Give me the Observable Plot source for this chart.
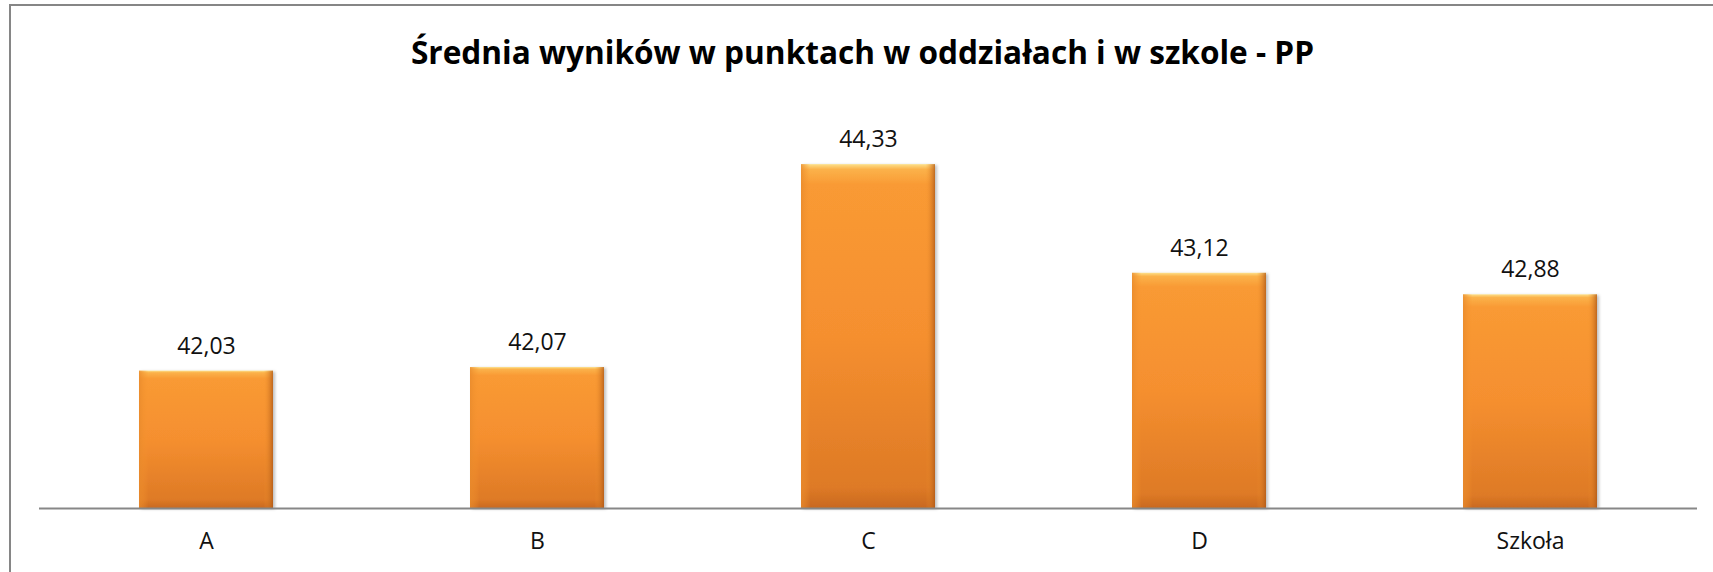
<!DOCTYPE html>
<html>
<head>
<meta charset="utf-8">
<script src="https://cdn.jsdelivr.net/npm/d3@7"></script>
<script src="https://cdn.jsdelivr.net/npm/@observablehq/plot@0.6"></script>
<style>
  html, body { margin: 0; padding: 0; background: #fff; overflow: hidden; }
  #wrap { position: relative; width: 1713px; height: 572px; overflow: hidden; }
  #frame { position: absolute; left: 9px; top: 4px; width: 1720px; height: 600px; border: 2px solid #868686; box-sizing: border-box; }
  #title { position: absolute; left: 6px; width: 1713px; top: 31px; text-align: center;
           font-family: "Open Sans", sans-serif; font-weight: bold; font-size: 31.6px; color: #000; line-height: 42px; }
  #chart { position: absolute; left: 0; top: 0; }
</style>
</head>
<body>
<div id="wrap">
  <div id="frame"></div>
  <div id="chart"></div>
  <div id="title">Średnia wyników w punktach w oddziałach i w szkole - PP</div>
</div>
<script>
const categories = ["A", "B", "C", "D", "Szkoła"];
const values = [42.03, 42.07, 44.33, 43.12, 42.88];
const labels = ["42,03", "42,07", "44,33", "43,12", "42,88"];
const yMin = 40.5;
const yMax = 45;

const data = categories.map((c, i) => ({cat: c, value: values[i], label: labels[i]}));

const plot = Plot.plot({
  width: 1713,
  height: 572,
  marginLeft: 39,
  marginRight: 16,
  marginTop: 104,
  marginBottom: 64,
  style: {fontFamily: "'Open Sans', sans-serif", background: "transparent"},
  x: {domain: categories, paddingInner: 0.595, paddingOuter: 0.2975, label: null},
  y: {domain: [yMin, yMax], axis: null},
  marks: [
    Plot.barY(data, {x: "cat", y1: () => yMin, y2: "value", fill: "url(#barGrad)", className: "mainbar"}),
    Plot.barY(data, {x: "cat", y1: () => yMin, y2: "value", fill: "url(#sideGrad)"}),
    Plot.ruleY([yMin], {stroke: "#878787", strokeWidth: 2}),
    Plot.text(data, {x: "cat", y: "value", text: "label", dy: -25, fontSize: 23, fill: "#111"}),
    Plot.axisX({tickSize: 0, tickPadding: 24, fontSize: 23, color: "#111"})
  ]
});

const svg = d3.select(plot);
const defs = svg.insert("defs", ":first-child");
const g1 = defs.append("linearGradient").attr("id", "barGrad").attr("x1", 0).attr("y1", 0).attr("x2", 0).attr("y2", 1);
g1.append("stop").attr("offset", "0%").attr("stop-color", "#fde08a");
g1.append("stop").attr("offset", "1.5%").attr("stop-color", "#fbb24a");
g1.append("stop").attr("offset", "6%").attr("stop-color", "#f99a34");
g1.append("stop").attr("offset", "50%").attr("stop-color", "#f58f2f");
g1.append("stop").attr("offset", "94%").attr("stop-color", "#de7a26");
g1.append("stop").attr("offset", "100%").attr("stop-color", "#c9691f");
const g2 = defs.append("linearGradient").attr("id", "sideGrad").attr("x1", 0).attr("y1", 0).attr("x2", 1).attr("y2", 0);
g2.append("stop").attr("offset", "0%").attr("stop-color", "#e88a2c").attr("stop-opacity", 0.8);
g2.append("stop").attr("offset", "7%").attr("stop-color", "#f7962e").attr("stop-opacity", 0);
g2.append("stop").attr("offset", "93%").attr("stop-color", "#f7962e").attr("stop-opacity", 0);
g2.append("stop").attr("offset", "100%").attr("stop-color", "#b05a18").attr("stop-opacity", 0.8);
const f = defs.append("filter").attr("id", "shadow").attr("x", "-10%").attr("y", "-10%").attr("width", "130%").attr("height", "130%");
f.append("feDropShadow").attr("dx", 2).attr("dy", 1).attr("stdDeviation", 1.5).attr("flood-color", "#000").attr("flood-opacity", 0.25);
svg.select(".mainbar").attr("filter", "url(#shadow)");

document.getElementById("chart").appendChild(plot);
</script>
</body>
</html>
